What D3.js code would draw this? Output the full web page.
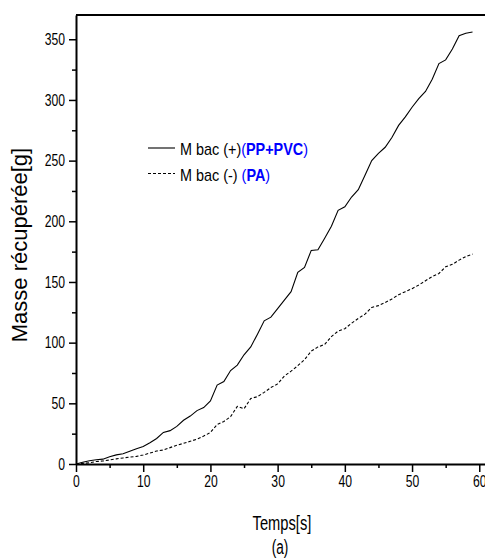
<!DOCTYPE html>
<html>
<head>
<meta charset="utf-8">
<script src="https://cdn.jsdelivr.net/npm/d3@7"></script>
<style>
  body { margin: 0; background: #fff; }
  svg { display: block; }
  text { font-family: "Liberation Sans", Arial, sans-serif; }
</style>
</head>
<body>
<svg id="chart" width="485" height="560"></svg>
<script>
// temps [s]
var temps = d3.range(0, 60);

// M bac (+) (PP+PVC), masse [g]
var masseBacPlus = [
  0, 1.5, 2.7, 3.5, 4, 6, 7.5, 8.5, 10.5, 12.5,
  14.5, 17.5, 21, 26, 27.5, 31, 36, 39.5, 44, 46.5,
  52, 65, 68, 77, 81.5, 90, 96.5, 107, 118, 121,
  128, 135, 142, 158, 162, 176, 176.5, 186, 196, 209,
  212, 220, 226, 238, 250, 256, 261, 269, 279, 286,
  294, 301, 307, 317, 330, 333, 342, 353, 355, 356
];

// M bac (-) (PA)
var masseBacMoins = [
  0, 0.5, 1, 2, 2.5, 3.3, 4.2, 5, 5.7, 6.3,
  7.4, 9, 10.7, 11.5, 13.5, 15.5, 17, 18.7, 20.5, 23,
  26, 32.5, 35, 39, 47.5, 45.5, 54, 55.5, 59, 63,
  66, 72.5, 76.5, 81, 86, 93, 96.5, 98.5, 105, 109.5,
  111.5, 116, 120, 123.5, 129, 130.5, 133, 136, 139.5, 142,
  144.5, 147.5, 151, 154.5, 157, 162.5, 164.5, 168, 171, 173
];

var xTicks = [0, 10, 20, 30, 40, 50, 60];
var xMinor = [5, 15, 25, 35, 45, 55];
var yTicks = [0, 50, 100, 150, 200, 250, 300, 350];
var yMinor = [25, 75, 125, 175, 225, 275, 325];

var svg = d3.select("#chart");

var x = d3.scaleLinear().domain([0, 61.3]).range([76, 488]);
var y = d3.scaleLinear().domain([0, 370]).range([464, 15]);

// squeeze a text horizontally, keeping its anchor point where it was
function condense(sel, s) {
  sel.each(function() {
    var t = d3.select(this);
    var x0 = +(t.attr("x") || 0);
    t.attr("x", x0 / s).attr("transform", "scale(" + s + ",1)");
  });
}

// frame top line (right edge falls outside the picture)
svg.append("line")
  .attr("x1", x(0)).attr("x2", x(61.3))
  .attr("y1", y(370)).attr("y2", y(370))
  .attr("stroke", "#000").attr("stroke-width", 2);

// minor ticks
svg.append("g")
  .attr("transform", "translate(0," + y(0) + ")")
  .call(d3.axisBottom(x).tickValues(xMinor).tickSize(4).tickFormat(""))
  .call(function(g) { g.select(".domain").remove(); })
  .selectAll("line").attr("stroke-width", 1.5);

svg.append("g")
  .attr("transform", "translate(" + x(0) + ",0)")
  .call(d3.axisLeft(y).tickValues(yMinor).tickSize(4).tickFormat(""))
  .call(function(g) { g.select(".domain").remove(); })
  .selectAll("line").attr("stroke-width", 1.5);

var xAxis = svg.append("g")
  .attr("transform", "translate(0," + y(0) + ")")
  .call(d3.axisBottom(x).tickValues(xTicks).tickSize(8).tickSizeOuter(0).tickPadding(4));

var yAxis = svg.append("g")
  .attr("transform", "translate(" + x(0) + ",0)")
  .call(d3.axisLeft(y).tickValues(yTicks).tickSize(7).tickSizeOuter(0).tickPadding(4));

[xAxis, yAxis].forEach(function(a) {
  a.attr("font-family", null).attr("font-size", null);
  a.select(".domain").attr("stroke-width", 2);
  a.selectAll(".tick line").attr("stroke-width", 1.5);
  a.selectAll(".tick text").attr("font-size", 16).attr("fill", "#000")
    .call(condense, 0.76);
});

// curves
var line = d3.line()
  .x(function(d) { return x(d[0]); })
  .y(function(d) { return y(d[1]); });

svg.append("path")
  .datum(temps.map(function(t, i) { return [t, masseBacPlus[i]]; }))
  .attr("d", line)
  .attr("fill", "none")
  .attr("stroke", "#000")
  .attr("stroke-width", 1.1);

svg.append("path")
  .datum(temps.map(function(t, i) { return [t, masseBacMoins[i]]; }))
  .attr("d", line)
  .attr("fill", "none")
  .attr("stroke", "#000")
  .attr("stroke-width", 1.1)
  .attr("stroke-dasharray", "3,2");

// legend
var legend = svg.append("g").attr("font-size", 16);

legend.append("line")
  .attr("x1", 148).attr("x2", 175).attr("y1", 148).attr("y2", 148)
  .attr("stroke", "#000").attr("stroke-width", 1.1);
var t1 = legend.append("text").attr("x", 180).attr("y", 155);
t1.append("tspan").text("M bac (+)");
t1.append("tspan").attr("fill", "#0000ff").text("(");
t1.append("tspan").attr("fill", "#0000ff").attr("font-weight", "bold").text("PP+PVC");
t1.append("tspan").attr("fill", "#0000ff").text(")");

legend.append("line")
  .attr("x1", 148).attr("x2", 175).attr("y1", 173.5).attr("y2", 173.5)
  .attr("stroke", "#000").attr("stroke-width", 1.1)
  .attr("stroke-dasharray", "3,2");
var t2 = legend.append("text").attr("x", 180).attr("y", 181);
t2.append("tspan").text("M bac (-) ");
t2.append("tspan").attr("fill", "#0000ff").text("(");
t2.append("tspan").attr("fill", "#0000ff").attr("font-weight", "bold").text("PA");
t2.append("tspan").attr("fill", "#0000ff").text(")");

legend.selectAll("text").call(condense, 0.9);

// axis titles
svg.append("text")
  .attr("x", 282).attr("y", 530)
  .attr("text-anchor", "middle")
  .attr("font-size", 21)
  .text("Temps[s]")
  .call(condense, 0.7);

svg.append("text")
  .attr("x", 280).attr("y", 554)
  .attr("text-anchor", "middle")
  .attr("font-size", 20)
  .text("(a)")
  .call(condense, 0.68);

svg.append("text")
  .attr("transform", "translate(26.5,245) rotate(-90)")
  .attr("text-anchor", "middle")
  .attr("font-size", 22)
  .text("Masse récupérée[g]");
</script>
</body>
</html>
